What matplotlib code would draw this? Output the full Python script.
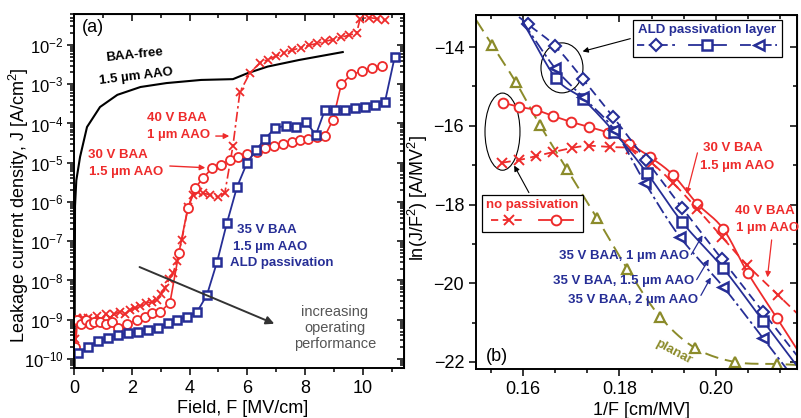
import numpy as np
import matplotlib
matplotlib.use("Agg")
import matplotlib.pyplot as plt
from matplotlib.lines import Line2D
from matplotlib.patches import Ellipse
from matplotlib.ticker import AutoMinorLocator, LogLocator, NullFormatter, FixedLocator

plt.rcParams['font.family'] = ['Liberation Sans', 'DejaVu Sans']
plt.rcParams['mathtext.fontset'] = 'custom'
plt.rcParams['mathtext.rm'] = 'Liberation Sans'
plt.rcParams['mathtext.it'] = 'Liberation Sans:italic'
plt.rcParams['mathtext.bf'] = 'Liberation Sans:bold'

RED = '#ee2b2b'
BLUE = '#262e96'
OLIVE = '#8b8b2a'

# ---------------- panel (a) data: field F [MV/cm], log10 J [A/cm^2] ----------------
black_F = [0.02, 0.035, 0.08, 0.21, 0.45, 0.9, 1.5, 2.3, 3.2, 4.4, 5.5, 6.0, 6.7, 7.8, 9.3]
black_logJ = [-10.3, -6.1, -5.45, -4.85, -4.09, -3.58, -3.27, -3.07, -2.97, -2.89, -2.87,
              -2.72, -2.55, -2.38, -2.18]

v40_F = [0.05, 0.1, 0.2, 0.3, 0.4, 0.5, 0.65, 0.8, 0.95, 1.1, 1.25, 1.4, 1.59, 1.75, 1.94,
         2.1, 2.3, 2.5, 2.7, 2.87, 3.0, 3.15, 3.3, 3.43, 3.56, 3.73, 3.95, 4.12, 4.3, 4.47,
         4.7, 4.98, 5.22, 5.5, 5.74, 6.09, 6.44, 6.72, 7.0, 7.28, 7.56, 7.84, 8.12, 8.4,
         8.68, 8.96, 9.24, 9.52, 9.78, 9.9, 10.2, 10.5, 10.75]
v40_logJ = [-9.5, -8.95, -9.1, -8.95, -9.05, -8.95, -9.0, -8.9, -9.0, -8.85, -8.95, -8.85,
            -8.8, -8.85, -8.75, -8.7, -8.65, -8.57, -8.55, -8.5, -8.35, -8.19, -7.95, -7.81,
            -7.5, -6.97, -6.13, -5.82, -5.75, -5.77, -5.82, -5.87, -5.77, -4.57, -3.2,
            -2.71, -2.45, -2.37, -2.28, -2.2, -2.13, -2.07, -2.01, -1.96, -1.91, -1.86,
            -1.8, -1.75, -1.7, -1.33, -1.3, -1.33, -1.36]

v30_F = [0.05, 0.12, 0.25, 0.4, 0.55, 0.7, 0.9, 1.1, 1.3, 1.52, 1.85, 2.18, 2.46, 2.7,
         2.98, 3.32, 3.63, 3.94, 4.19, 4.47, 4.78, 5.09, 5.4, 5.68, 5.99, 6.33, 6.6, 6.92,
         7.23, 7.54, 7.82, 8.1, 8.41, 8.68, 8.96, 9.25, 9.6, 9.97, 10.3, 10.65]
v30_logJ = [-9.7, -9.0, -9.1, -9.0, -9.1, -9.05, -9.06, -9.1, -9.05, -9.2, -9.1, -9.0,
            -8.93, -8.83, -8.8, -8.57, -7.3, -6.15, -5.64, -5.39, -5.13, -5.06, -4.93,
            -4.85, -4.78, -4.72, -4.62, -4.57, -4.52, -4.47, -4.42, -4.39, -4.34, -4.32,
            -3.91, -3.0, -2.75, -2.67, -2.58, -2.53]

ald_F = [0.14, 0.48, 0.83, 1.18, 1.52, 1.87, 2.21, 2.56, 2.9, 3.25, 3.56, 3.91, 4.26, 4.6,
         4.95, 5.29, 5.64, 5.99, 6.3, 6.6, 6.96, 7.34, 7.68, 8.03, 8.37, 8.68, 9.03, 9.38,
         9.72, 10.07, 10.42, 10.76, 11.1]
ald_logJ = [-9.85, -9.69, -9.54, -9.47, -9.39, -9.34, -9.3, -9.26, -9.21, -9.08, -9.0,
            -8.93, -8.8, -8.37, -7.53, -6.54, -5.62, -5.0, -4.68, -4.4, -4.11, -4.06,
            -4.09, -3.96, -4.29, -3.66, -3.66, -3.66, -3.6, -3.58, -3.53, -3.45, -2.3]

# ---------------- panel (b) data: 1/F [cm/MV], ln(J/F^2) ----------------
planar_x = [0.1536, 0.1585, 0.1635, 0.1691, 0.1753, 0.1816, 0.1884, 0.1956, 0.2039, 0.2126]
planar_y = [-13.95, -14.89, -15.98, -17.1, -18.34, -19.63, -20.85, -21.64, -22.0, -22.05]

fn30_x = [0.1559, 0.1592, 0.1627, 0.1662, 0.1699, 0.1737, 0.1776, 0.182, 0.1863, 0.1911,
          0.1961, 0.2015, 0.2066, 0.2126]
fn30_y = [-15.42, -15.52, -15.6, -15.75, -15.9, -16.03, -16.18, -16.46, -16.79, -17.25,
          -17.98, -18.62, -19.74, -20.88]

fn40_x = [0.1556, 0.1592, 0.1627, 0.1662, 0.1702, 0.1737, 0.178, 0.1824, 0.1867, 0.1911,
          0.1961, 0.2012, 0.2064, 0.2128]
fn40_y = [-16.94, -16.87, -16.77, -16.67, -16.56, -16.51, -16.54, -16.59, -16.95, -17.45,
          -18.11, -18.82, -19.53, -20.29]

ald1_x = [0.161, 0.1666, 0.1724, 0.1787, 0.1855, 0.193, 0.2012, 0.2097]
ald1_y = [-13.42, -13.97, -14.81, -15.78, -16.87, -18.09, -19.38, -20.72]

ald15_x = [0.1668, 0.1724, 0.1789, 0.1857, 0.193, 0.2015, 0.2097]
ald15_y = [-14.79, -15.32, -16.16, -17.2, -18.45, -19.62, -20.95]

ald2_x = [0.1666, 0.1724, 0.1789, 0.1853, 0.1925, 0.2015, 0.2097]
ald2_y = [-14.53, -15.27, -16.1, -17.45, -18.82, -20.09, -21.39]

# where the 1.5 and 2 um curves start at the upper left (lines without markers)
ald_line_start_x = 0.1600
ald_line_start_y = -13.37

XLIM_A = (0, 11.42)
YLIM_A = (10 ** -10.23, 10 ** -1.21)
XLIM_B = (0.15026, 0.21679)
YLIM_B = (-22.178, -13.187)


def spline(x, y, xlo=None, xhi=None, n=16):
    """Catmull-Rom curve through the points, optionally extended linearly to xlo/xhi."""
    P = np.column_stack([np.asarray(x, float), np.asarray(y, float)])
    if xlo is not None:
        s = (P[1, 1] - P[0, 1]) / (P[1, 0] - P[0, 0])
        P = np.vstack([[xlo, P[0, 1] + s * (xlo - P[0, 0])], P])
    if xhi is not None:
        s = (P[-1, 1] - P[-2, 1]) / (P[-1, 0] - P[-2, 0])
        P = np.vstack([P, [xhi, P[-1, 1] + s * (xhi - P[-1, 0])]])
    Q = np.vstack([2 * P[0] - P[1], P, 2 * P[-1] - P[-2]])
    t = np.linspace(0, 1, n, endpoint=False)[:, None]
    segs = []
    for i in range(1, len(Q) - 2):
        p0, p1, p2, p3 = Q[i - 1], Q[i], Q[i + 1], Q[i + 2]
        segs.append(0.5 * (2 * p1 + (-p0 + p2) * t + (2 * p0 - 5 * p1 + 4 * p2 - p3) * t ** 2
                           + (-p0 + 3 * p1 - 3 * p2 + p3) * t ** 3))
    segs.append(Q[-2][None, :])
    C = np.vstack(segs)
    return C[:, 0], C[:, 1]


fig = plt.figure(figsize=(8.01, 4.18), dpi=100)
ax1 = fig.add_axes([74 / 801, 1 - 368 / 418, 330 / 801, 354 / 418])
ax2 = fig.add_axes([476 / 801, 1 - 369 / 418, 321 / 801, 354 / 418])

for ax in (ax1, ax2):
    for sp in ax.spines.values():
        sp.set_linewidth(1.4)
    ax.tick_params(which='both', labelsize=13, width=1.1, direction='out')
    ax.tick_params(which='major', length=5)
    ax.tick_params(which='minor', length=3)
ax1.tick_params(axis='y', labelsize=12, pad=2.5)

# ---------------- panel (a) ----------------
ax1.set_yscale('log')
ax1.plot(black_F, 10 ** np.array(black_logJ), color='black', lw=1.5)
ax1.plot(v40_F, 10 ** np.array(v40_logJ), color=RED, lw=1.2, ls=(0, (6, 2, 1.5, 2)),
         marker='x', ms=6, mew=1.3)
ax1.plot(v30_F, 10 ** np.array(v30_logJ), color=RED, lw=1.2, marker='o', ms=6.5,
         mfc='white', mew=1.3)
ax1.plot(ald_F, 10 ** np.array(ald_logJ), color=BLUE, lw=1.3, marker='s', ms=6.3,
         mfc='white', mew=1.8)
ax1.set_xlim(*XLIM_A)
ax1.set_ylim(*YLIM_A)
ax1.set_xticks(range(0, 11, 2))
ax1.xaxis.set_minor_locator(AutoMinorLocator(2))
ax1.yaxis.set_major_locator(LogLocator(base=10, numticks=20))
ax1.yaxis.set_minor_locator(LogLocator(base=10, subs=np.arange(2, 10), numticks=100))
ax1.yaxis.set_minor_formatter(NullFormatter())

# mirrored inward ticks on top / right
t1 = ax1.secondary_xaxis('top')
t1.set_xticks(range(0, 11, 2))
t1.xaxis.set_minor_locator(FixedLocator(np.arange(1, 12, 2)))
t1.tick_params(which='both', direction='in', labeltop=False, width=1.1)
t1.tick_params(which='major', length=5)
t1.tick_params(which='minor', length=3)
r1 = ax1.secondary_yaxis('right')
r1.yaxis.set_major_locator(LogLocator(base=10, numticks=20))
r1.yaxis.set_minor_locator(LogLocator(base=10, subs=np.arange(2, 10), numticks=100))
r1.yaxis.set_minor_formatter(NullFormatter())
r1.tick_params(which='both', direction='in', labelright=False, width=1.1)
r1.tick_params(which='major', length=5)
r1.tick_params(which='minor', length=3)

ax1.set_xlabel('Field, F [MV/cm]', fontsize=13)
ax1.xaxis.set_label_coords(0.51, -0.09)
ax1.set_ylabel('Leakage current density, J [A/cm$^2$]', fontsize=13)
ax1.yaxis.set_label_coords(-0.13, 0.46)

ax1.text(0.058, 0.963, '(a)', transform=ax1.transAxes, fontsize=13, va='center', ha='center')
ax1.text(0.182, 0.884, 'BAA-free', transform=ax1.transAxes, fontsize=9.5, fontweight='bold',
         ha='center', va='center', rotation=6)
ax1.text(0.188, 0.822, '1.5 \u00b5m AAO', transform=ax1.transAxes, fontsize=9.5,
         fontweight='bold', ha='center', va='center', rotation=7)
ax1.text(0.312, 0.706, '40 V BAA', transform=ax1.transAxes, fontsize=9.5, fontweight='bold',
         color=RED, ha='center', va='center')
ax1.text(0.318, 0.657, '1 \u00b5m AAO', transform=ax1.transAxes, fontsize=9.5,
         fontweight='bold', color=RED, ha='center', va='center')
ax1.text(0.134, 0.601, '30 V BAA', transform=ax1.transAxes, fontsize=9.5, fontweight='bold',
         color=RED, ha='center', va='center')
ax1.text(0.158, 0.554, '1.5 \u00b5m AAO', transform=ax1.transAxes, fontsize=9.5,
         fontweight='bold', color=RED, ha='center', va='center')
ax1.text(0.585, 0.39, '35 V BAA', transform=ax1.transAxes, fontsize=9.5, fontweight='bold',
         color=BLUE, ha='center', va='center')
ax1.text(0.594, 0.342, '1.5 \u00b5m AAO', transform=ax1.transAxes, fontsize=9.5,
         fontweight='bold', color=BLUE, ha='center', va='center')
ax1.text(0.63, 0.297, 'ALD passivation', transform=ax1.transAxes, fontsize=9.5,
         fontweight='bold', color=BLUE, ha='center', va='center')
ax1.text(0.79, 0.113, 'increasing\noperating\nperformance', transform=ax1.transAxes,
         fontsize=10.5, color='#555555', ha='center', va='center', linespacing=1.15)

ax1.annotate('', xy=(5.47, 10 ** -4.32), xytext=(4.81, 10 ** -4.32),
             arrowprops=dict(arrowstyle='-|>', color=RED, lw=1.0, mutation_scale=8))
ax1.annotate('', xy=(4.64, 10 ** -5.13), xytext=(3.22, 10 ** -5.08),
             arrowprops=dict(arrowstyle='-|>', color=RED, lw=1.0, mutation_scale=8))
ax1.annotate('', xy=(7.02, 10 ** -9.13), xytext=(2.18, 10 ** -7.63),
             arrowprops=dict(arrowstyle='-|>', color='#333333', lw=1.4, mutation_scale=12))

# ---------------- panel (b) ----------------
xs, ys = spline(planar_x, planar_y, XLIM_B[0], XLIM_B[1])
ax2.plot(xs, ys, color=OLIVE, lw=1.4, ls=(0, (7, 3.5)))
ax2.plot(planar_x, planar_y, ls='none', marker='^', ms=7, mfc='white', mec=OLIVE, mew=1.6)

xs, ys = spline(fn30_x, fn30_y, None, XLIM_B[1])
ax2.plot(xs, ys, color=RED, lw=1.3)
ax2.plot(fn30_x, fn30_y, ls='none', marker='o', ms=7, mfc='white', mec=RED, mew=1.4)

xs, ys = spline(fn40_x, fn40_y, None, XLIM_B[1])
ax2.plot(xs, ys, color=RED, lw=1.3, ls=(0, (5, 3)))
ax2.plot(fn40_x, fn40_y, ls='none', marker='x', ms=7, mec=RED, mew=1.4)

xs, ys = spline(ald1_x, ald1_y, XLIM_B[0], XLIM_B[1])
ax2.plot(xs, ys, color=BLUE, lw=1.3, ls=(0, (5, 3)))
ax2.plot(ald1_x, ald1_y, ls='none', marker='D', ms=6, mfc='white', mec=BLUE, mew=1.5)

xs, ys = spline([ald_line_start_x] + ald15_x, [ald_line_start_y] + ald15_y, None, XLIM_B[1])
ax2.plot(xs, ys, color=BLUE, lw=1.3)
ax2.plot(ald15_x, ald15_y, ls='none', marker='s', ms=7, mfc='white', mec=BLUE, mew=1.8)

xs, ys = spline([ald_line_start_x] + ald2_x, [ald_line_start_y] + ald2_y, None, XLIM_B[1])
ax2.plot(xs, ys, color=BLUE, lw=1.3, ls=(0, (7, 2, 1.5, 2)))
ax2.plot(ald2_x, ald2_y, ls='none', marker='<', ms=7.5, mfc='white', mec=BLUE, mew=1.8)

ax2.set_xlim(*XLIM_B)
ax2.set_ylim(*YLIM_B)
ax2.set_xticks([0.16, 0.18, 0.20])
ax2.set_xticklabels(['0.16', '0.18', '0.20'])
ax2.xaxis.set_minor_locator(AutoMinorLocator(3))
ax2.set_yticks([-22, -20, -18, -16, -14])
ax2.yaxis.set_minor_locator(AutoMinorLocator(2))

t2 = ax2.secondary_xaxis('top')
t2.set_xticks([0.16, 0.18, 0.20])
t2.xaxis.set_minor_locator(AutoMinorLocator(3))
t2.tick_params(which='both', direction='in', labeltop=False, width=1.1)
t2.tick_params(which='major', length=5)
t2.tick_params(which='minor', length=3)
r2 = ax2.secondary_yaxis('right')
r2.set_yticks([-22, -20, -18, -16, -14])
r2.yaxis.set_minor_locator(AutoMinorLocator(2))
r2.tick_params(which='both', direction='in', labelright=False, width=1.1)
r2.tick_params(which='major', length=5)
r2.tick_params(which='minor', length=3)

ax2.set_xlabel('1/F [cm/MV]', fontsize=13)
ax2.xaxis.set_label_coords(0.517, -0.092)
ax2.set_ylabel('ln(J/F$^2$) [A/MV$^2$]', fontsize=13)
ax2.yaxis.set_label_coords(-0.142, 0.483)

ax2.text(0.065, 0.035, '(b)', transform=ax2.transAxes, fontsize=13, va='center', ha='center')

ax2.add_patch(Ellipse((0.16808, -14.53), 0.0087, 1.27, fill=False, ec='black', lw=0.8))
ax2.add_patch(Ellipse((0.15575, -16.15), 0.00725, 1.96, fill=False, ec='black', lw=0.8))

arrow_k = dict(arrowstyle='-|>', color='black', lw=0.8, mutation_scale=8)
ax2.annotate('', xy=(0.1718, -14.13), xytext=(0.1828, -13.77), arrowprops=arrow_k)
ax2.annotate('', xy=(0.1579, -16.95), xytext=(0.1615, -17.76), arrowprops=arrow_k)

leg_ald = ax2.legend(
    handles=[Line2D([], [], color=BLUE, lw=1.3, ls=(0, (4, 2.5)), marker='D', ms=6,
                    mfc='white', mew=1.5),
             Line2D([], [], color=BLUE, lw=1.3, marker='s', ms=7, mfc='white', mew=1.8),
             Line2D([], [], color=BLUE, lw=1.3, ls=(0, (6, 2, 1.5, 2)), marker='<', ms=7.5,
                    mfc='white', mew=1.8)],
    labels=['', '', ''], ncol=3, title='ALD passivation layer',
    title_fontproperties={'weight': 'bold', 'size': 9.5}, loc='upper left',
    bbox_to_anchor=(0.489, 0.986), borderaxespad=0, handlelength=2.7, handletextpad=0,
    columnspacing=1.0, frameon=True, fancybox=False, edgecolor='black', framealpha=1,
    borderpad=0.3, labelspacing=0.2)
leg_ald.get_title().set_color(BLUE)
leg_ald.get_frame().set_linewidth(0.9)
ax2.add_artist(leg_ald)

leg_np = ax2.legend(
    handles=[Line2D([], [], color=RED, lw=1.3, ls=(0, (4, 2.5)), marker='x', ms=7, mew=1.4),
             Line2D([], [], color=RED, lw=1.3, marker='o', ms=7, mfc='white', mew=1.4)],
    labels=['', ''], ncol=2, title='no passivation',
    title_fontproperties={'weight': 'bold', 'size': 9.5}, loc='upper left',
    bbox_to_anchor=(0.019, 0.4915), borderaxespad=0, handlelength=2.5, handletextpad=0,
    columnspacing=0.9, frameon=True, fancybox=False, edgecolor='black', framealpha=1,
    borderpad=0.3, labelspacing=0.2)
leg_np.get_title().set_color(RED)
leg_np.get_frame().set_linewidth(0.9)

ax2.text(0.2035, -16.57, '30 V BAA', fontsize=9.5, fontweight='bold', color=RED,
         ha='center', va='center')
ax2.text(0.2044, -17.02, '1.5 \u00b5m AAO', fontsize=9.5, fontweight='bold', color=RED,
         ha='center', va='center')
ax2.text(0.2102, -18.17, '40 V BAA', fontsize=9.5, fontweight='bold', color=RED,
         ha='center', va='center')
ax2.text(0.2106, -18.6, '1 \u00b5m AAO', fontsize=9.5, fontweight='bold', color=RED,
         ha='center', va='center')
arrow_r = dict(arrowstyle='-|>', color=RED, lw=0.9, mutation_scale=8)
ax2.annotate('', xy=(0.1938, -17.8), xytext=(0.1963, -16.62), arrowprops=arrow_r)
ax2.annotate('', xy=(0.2106, -19.92), xytext=(0.2116, -18.83), arrowprops=arrow_r)

ax2.text(0.1944, -19.31, '35 V BAA, 1 \u00b5m AAO', fontsize=9.5, fontweight='bold',
         color=BLUE, ha='right', va='center')
ax2.text(0.1954, -19.94, '35 V BAA, 1.5 \u00b5m AAO', fontsize=9.5, fontweight='bold',
         color=BLUE, ha='right', va='center')
ax2.text(0.1963, -20.43, '35 V BAA, 2 \u00b5m AAO', fontsize=9.5, fontweight='bold',
         color=BLUE, ha='right', va='center')
arrow_b = dict(arrowstyle='-|>', color=BLUE, lw=0.9, mutation_scale=8)
ax2.annotate('', xy=(0.1975, -18.72), xytext=(0.1946, -19.33), arrowprops=arrow_b)
ax2.annotate('', xy=(0.1988, -19.33), xytext=(0.1957, -19.97), arrowprops=arrow_b)
ax2.annotate('', xy=(0.1992, -19.79), xytext=(0.1966, -20.37), arrowprops=arrow_b)

ax2.text(0.1913, -21.75, 'planar', fontsize=9.5, fontweight='bold', color=OLIVE,
         ha='center', va='center', rotation=-28)

fig.savefig('out.png', dpi=100)
